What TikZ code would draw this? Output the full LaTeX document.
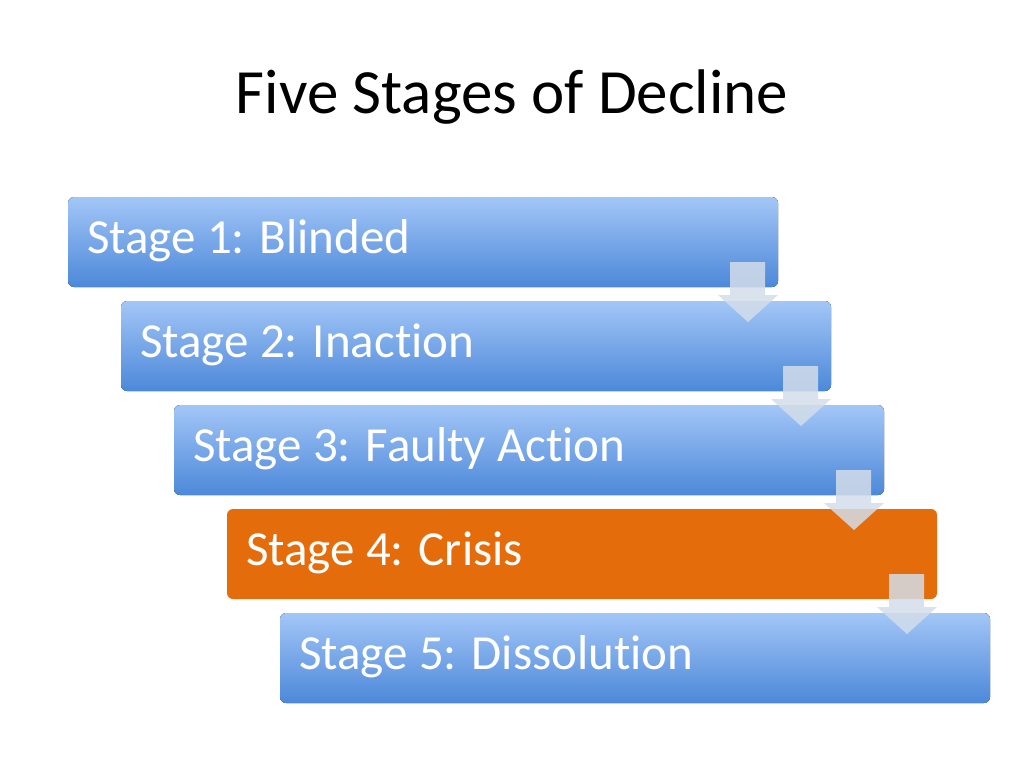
\documentclass[tikz,border=0pt]{standalone}
\usepackage{fontspec}
\setmainfont[RawFeature={-liga;-clig}]{Carlito}
\begin{document}
\begin{tikzpicture}[x=1pt,y=-1pt,
  stagebox/.style={rounded corners=6pt, draw=none},
  stagetext/.style={anchor=west, text=white, font=\fontsize{49}{54}\selectfont, inner sep=0pt},
  downarrow/.style={fill=arrowfill, fill opacity=0.85, draw=none}]
\definecolor{stagetop}{HTML}{A3C6F7}
\definecolor{stagebot}{HTML}{4C88D9}
\definecolor{orangefill}{HTML}{E46C0A}
\definecolor{arrowfill}{HTML}{D3DDEA}
\useasboundingbox[fill=white] (0,0) rectangle (1024,768);
\node (title) at (512,97) {\fontsize{63}{68}\selectfont Five Stages of Decline};
\foreach \i/\t in {0/Stage 1: Blinded,1/Stage 2: Inaction,2/Stage 3: Faulty Action,4/Stage 5: Dissolution}{
  \fill[stagebox, top color=stagetop, bottom color=stagebot] (68+53*\i,197+104*\i) rectangle ++(710,90);
  \node[stagetext] (s\i) at (87+53*\i,241+104*\i) {\t};
}
\fill[stagebox, fill=orangefill] (227,509) rectangle ++(710,90);
\node[stagetext] (s3) at (246,553) {Stage 4: Crisis};
\foreach \i in {0,1,2,3}{
  \fill[downarrow] (730+53*\i,262+104*\i) -- ++(35,0) -- ++(0,33) -- ++(13,0) -- ++(-30,27) -- ++(-30,-27) -- ++(12,0) -- cycle;
}
\end{tikzpicture}
\end{document}
